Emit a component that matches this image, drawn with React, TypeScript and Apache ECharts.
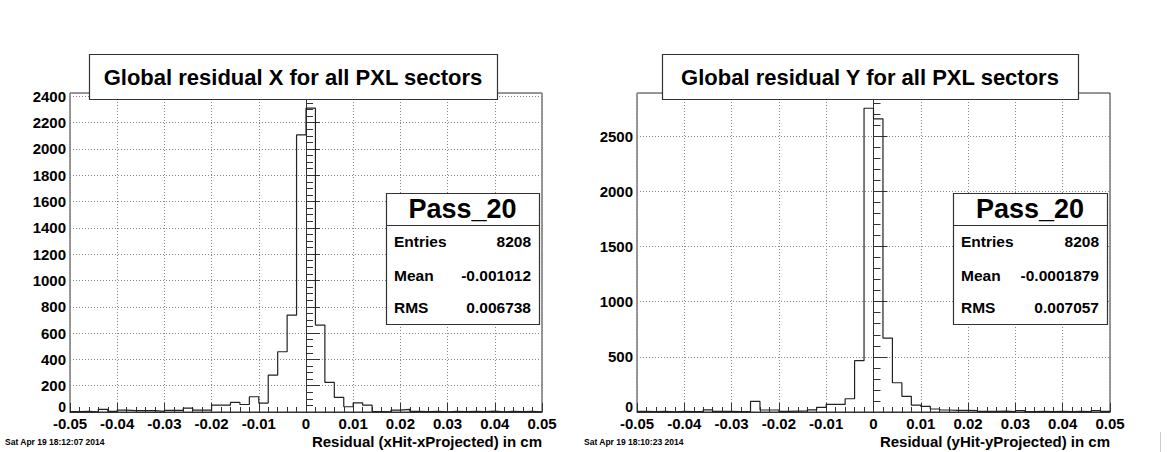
import React, { useEffect, useRef } from 'react';
import * as echarts from 'echarts';

// ---------- data ----------
const X_MIN = -0.05;
const X_MAX = 0.05;
const N_BINS = 50;

// bin contents, 50 bins of width 0.002 from -0.05 to 0.05
const countsResX = [
  3, 5, 2, 20, 5, 15, 10, 10, 10, 5,
  12, 12, 30, 14, 14, 52, 52, 73, 57, 116,
  68, 280, 458, 737, 2106, 2310, 661, 225, 111, 40,
  70, 52, 3, 2, 15, 20, 5, 3, 5, 2,
  5, 3, 4, 3, 6, 2, 4, 3, 5, 2,
];
const countsResY = [
  5, 3, 5, 2, 5, 3, 5, 20, 5, 5,
  3, 5, 96, 18, 18, 5, 8, 10, 20, 42,
  69, 69, 120, 465, 2753, 2657, 670, 265, 142, 62,
  51, 27, 18, 15, 15, 12, 5, 5, 8, 3,
  12, 3, 5, 3, 5, 3, 5, 3, 12, 5,
];

const yMaxResX = 2425;
const yMaxResY = 2891;
const yStepResX = 200;
const yStepResY = 500;
const xStep = 0.01;

const titles = ['Global residual X for all PXL sectors', 'Global residual Y for all PXL sectors'];
const axisTitles = ['Residual (xHit-xProjected) in cm', 'Residual (yHit-yProjected) in cm'];
const dates = ['Sat Apr 19 18:12:07 2014', 'Sat Apr 19 18:10:23 2014'];
const statName = 'Pass_20';
const statLabels = ['Entries', 'Mean', 'RMS'];
const statValuesX = ['8208', '-0.001012', '0.006738'];
const statValuesY = ['8208', '-0.0001879', '0.007057'];

// ---------- helpers ----------
const FONT = '"Liberation Sans", Arial, Helvetica, sans-serif';

function stepPoints(counts: number[]) {
  const w = (X_MAX - X_MIN) / N_BINS;
  const pts: number[][] = [];
  counts.forEach((c, i) => {
    const lo = X_MIN + i * w;
    pts.push([lo, c], [lo + w, c]);
  });
  return pts;
}

function xAxisCfg(gridIndex: number) {
  return {
    type: 'value',
    gridIndex,
    min: X_MIN,
    max: X_MAX,
    interval: xStep,
    axisLine: { show: true, lineStyle: { color: '#333', width: 1 } },
    axisTick: { show: true, inside: true, length: 9, lineStyle: { color: '#333' } },
    minorTick: { show: true, splitNumber: 5, length: 5, lineStyle: { color: '#333' } },
    splitLine: { show: true, lineStyle: { color: '#888', type: [1, 2], width: 1 } },
    axisLabel: {
      margin: 5,
      color: '#000',
      fontFamily: FONT,
      fontWeight: 'bold',
      fontSize: 15,
      lineHeight: 13,
      formatter: (v: number) => String(Number(v.toFixed(3))),
    },
  };
}

function yAxisCfg(gridIndex: number, max: number, step: number, minorSplit: number) {
  return {
    type: 'value',
    gridIndex,
    min: 0,
    max,
    interval: step,
    axisLine: { show: true, lineStyle: { color: '#333', width: 1 } },
    axisTick: { show: true, inside: true, length: 14, lineStyle: { color: '#333' } },
    minorTick: { show: true, splitNumber: minorSplit, length: 7, lineStyle: { color: '#333' } },
    splitLine: { show: true, lineStyle: { color: '#888', type: [1, 2], width: 1 } },
    axisLabel: {
      margin: 4,
      color: '#000',
      fontFamily: FONT,
      fontWeight: 'bold',
      fontSize: 15,
      lineHeight: 13,
      formatter: (v: number) => {
        if (Math.abs(v % step) > 1e-6) return '';
        return v === 0 ? '{z|0}' : String(v);
      },
      rich: {
        z: { fontFamily: FONT, fontWeight: 'bold', fontSize: 14, lineHeight: 10, padding: [0, 0, 11, 0] },
      },
    },
  };
}

function txt(text: string, x: number, y: number, size: number, align: string, extra: any = {}) {
  return {
    type: 'text',
    x,
    y,
    z: 110,
    silent: true,
    style: {
      text,
      font: `bold ${size}px ${FONT}`,
      fill: '#000',
      align,
      verticalAlign: 'middle',
      ...extra,
    },
  };
}

function box(x: number, y: number, w: number, h: number) {
  return {
    type: 'rect',
    z: 100,
    silent: true,
    shape: { x: x + 0.5, y: y + 0.5, width: w, height: h },
    style: { fill: '#fff', stroke: '#333', lineWidth: 1.2 },
  };
}

function hline(x1: number, x2: number, y: number) {
  return {
    type: 'line',
    z: 105,
    silent: true,
    shape: { x1, y1: y + 0.5, x2, y2: y + 0.5 },
    style: { stroke: '#333', lineWidth: 1.2 },
  };
}

function statsBox(x: number, y: number, w: number, values: string[]) {
  const els: any[] = [];
  els.push(box(x, y, w, 131));
  els.push(hline(x, x + w, y + 32));
  els.push(txt(statName, x + w / 2, y + 16, 27, 'center'));
  const rowsY = [y + 48, y + 82, y + 114];
  statLabels.forEach((lab, i) => {
    els.push(txt(lab, x + 8, rowsY[i], 15.5, 'left'));
    els.push(txt(values[i], x + w - 8, rowsY[i], 15.5, 'right'));
  });
  return els;
}

export default function App() {
  const ref = useRef<HTMLDivElement>(null);

  useEffect(() => {
    document.body.style.margin = '0';
    if (!ref.current) return;
    const chart = echarts.init(ref.current, null, { renderer: 'svg' });

    const graphics: any[] = [
      // title boxes
      box(89, 54, 408, 45),
      txt(titles[0], 293, 77, 22, 'center'),
      box(662, 54, 416, 45),
      txt(titles[1], 870, 77, 22, 'center'),
      // stats boxes
      ...statsBox(386, 193, 153, statValuesX),
      ...statsBox(953, 193, 154, statValuesY),
      // axis titles
      txt(axisTitles[0], 542, 441, 15, 'right'),
      txt(axisTitles[1], 1110, 441, 15, 'right'),
      // dates
      txt(dates[0], 5, 442, 8.5, 'left'),
      txt(dates[1], 584, 442, 8.5, 'left'),
      {
        type: 'line',
        z: 100,
        silent: true,
        shape: { x1: 1160.5, y1: 432, x2: 1160.5, y2: 452 },
        style: { stroke: '#ccc', lineWidth: 1 },
      },
    ];

    chart.setOption({
      animation: false,
      backgroundColor: '#fff',
      grid: [
        { left: 70, top: 93, width: 472, height: 319, show: true, borderColor: '#333', borderWidth: 1, backgroundColor: 'transparent' },
        { left: 637, top: 93, width: 473, height: 319, show: true, borderColor: '#333', borderWidth: 1, backgroundColor: 'transparent' },
      ],
      xAxis: [xAxisCfg(0), xAxisCfg(1)],
      yAxis: [yAxisCfg(0, yMaxResX, yStepResX, 4), yAxisCfg(1, yMaxResY, yStepResY, 5)],
      series: [
        {
          type: 'line',
          xAxisIndex: 0,
          yAxisIndex: 0,
          data: stepPoints(countsResX),
          showSymbol: false,
          symbol: 'none',
          lineStyle: { color: '#222', width: 1.2 },
          z: 5,
        },
        {
          type: 'line',
          xAxisIndex: 1,
          yAxisIndex: 1,
          data: stepPoints(countsResY),
          showSymbol: false,
          symbol: 'none',
          lineStyle: { color: '#222', width: 1.2 },
          z: 5,
        },
      ],
      graphic: graphics,
    });

    return () => chart.dispose();
  }, []);

  return (
    <div
      ref={ref}
      style={{ position: 'fixed', left: 0, top: 0, width: 1169, height: 452, background: '#fff' }}
    />
  );
}
